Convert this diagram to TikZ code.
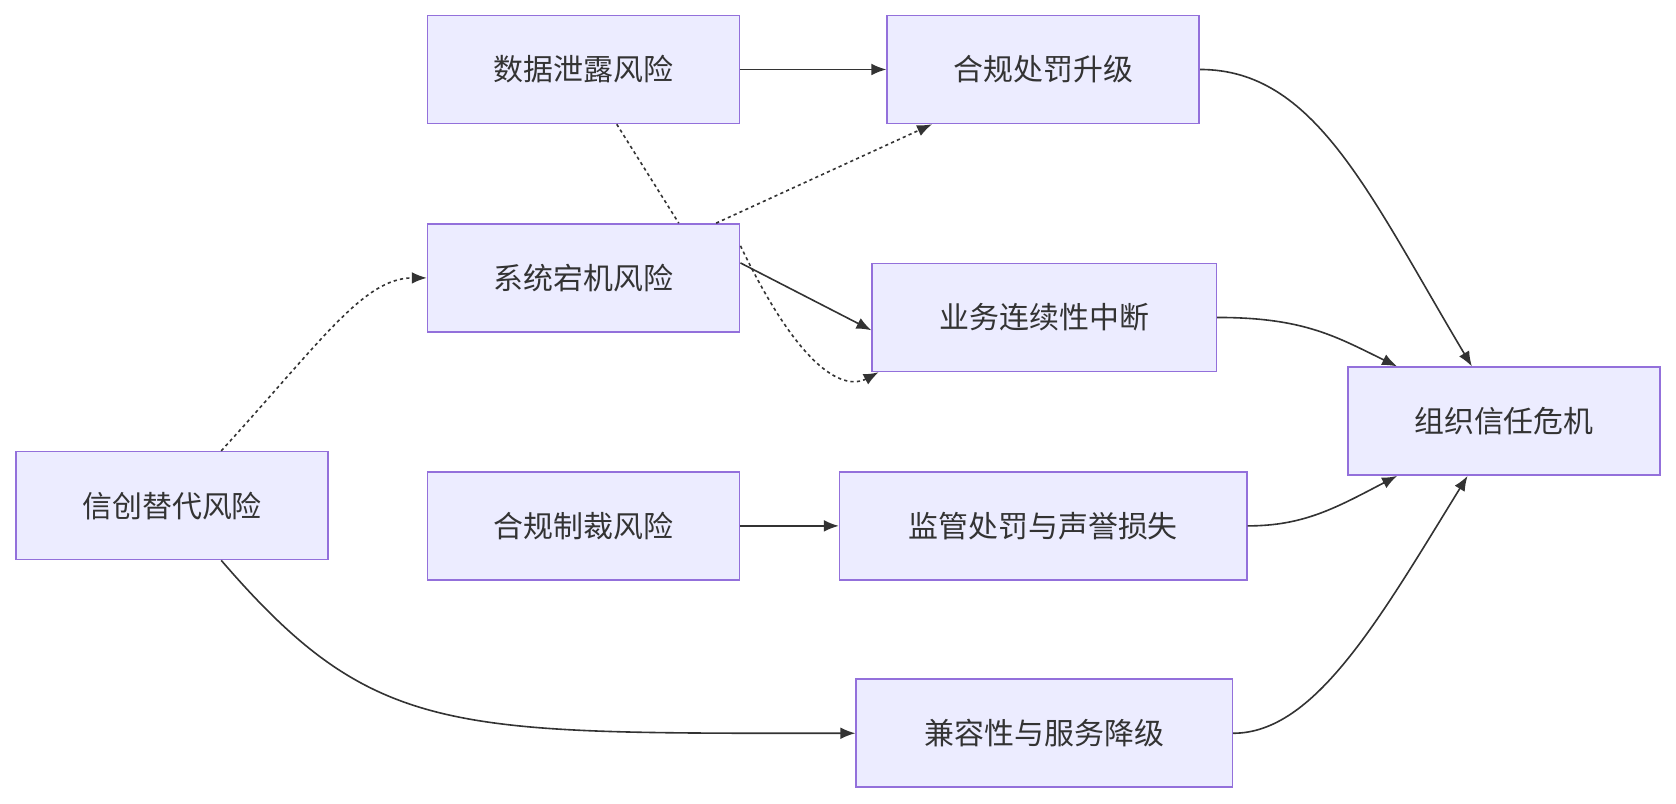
\documentclass[tikz,border=0pt]{standalone}
\usepackage{fontspec}
\setmainfont{Noto Sans CJK SC}
\usetikzlibrary{arrows.meta}
\definecolor{nfill}{HTML}{ECECFF}
\definecolor{ndraw}{HTML}{9370DB}
\definecolor{ln}{HTML}{333333}
\begin{document}
\begin{tikzpicture}[x=1pt,y=-1pt,
 box/.style={draw=ndraw,fill=nfill,line width=1.5pt,minimum height=101pt,font=\fontsize{28}{32}\selectfont,text=ln,inner sep=0pt},
 ar/.style={draw=ln,line width=1.5pt,-{Latex[length=14pt,width=11pt]}},
 da/.style={ar,dash pattern=on 3pt off 3pt}]
\useasboundingbox (0,0) rectangle (1568,752);
\node[box,minimum width=292pt] (d) at (546,65) {数据泄露风险};
\node[box,minimum width=292pt] (h) at (976,65) {合规处罚升级};
\node[box,minimum width=292pt] (s) at (546,260) {系统宕机风险};
\node[box,minimum width=322pt] (y) at (977,297) {业务连续性中断};
\node[box,minimum width=292pt] (z) at (1407,394) {组织信任危机};
\node[box,minimum width=292pt] (x) at (161,473) {信创替代风险};
\node[box,minimum width=292pt] (c) at (546,492) {合规制裁风险};
\node[box,minimum width=381pt] (j) at (976,492) {监管处罚与声誉损失};
\node[box,minimum width=352pt] (k) at (977,686) {兼容性与服务降级};
\draw[ar] (d.east) -- (h.west);
\draw[ln,line width=1.5pt,dash pattern=on 3pt off 3pt] ([xshift=31pt]d.south) -- ([xshift=89pt]s.north);
\draw[da] ([xshift=124pt]s.north) -- ([xshift=-104pt]h.south);
\draw[ar] ([yshift=14pt]s.east) -- ([yshift=-12pt]y.west);
\draw[da] ([yshift=30pt]s.east) .. controls (760,370) and (800,360) .. ([xshift=-155pt]y.south);
\draw[da] ([xshift=46pt]x.north) .. controls (300,320) and (340,260) .. (s.west);
\draw[ar] ([xshift=46pt]x.south) .. controls (350,690) and (420,686) .. (k.west);
\draw[ar] (c.east) -- (j.west);
\draw[ar] (h.east) .. controls (1230,65) and (1280,180) .. ([xshift=-30pt]z.north);
\draw[ar] (y.east) .. controls (1220,297) and (1250,315) .. ([xshift=-100pt]z.north);
\draw[ar] (j.east) .. controls (1220,492) and (1250,475) .. ([xshift=-100pt]z.south);
\draw[ar] (k.east) .. controls (1230,686) and (1290,580) .. ([xshift=-34pt]z.south);
\end{tikzpicture}
\end{document}
